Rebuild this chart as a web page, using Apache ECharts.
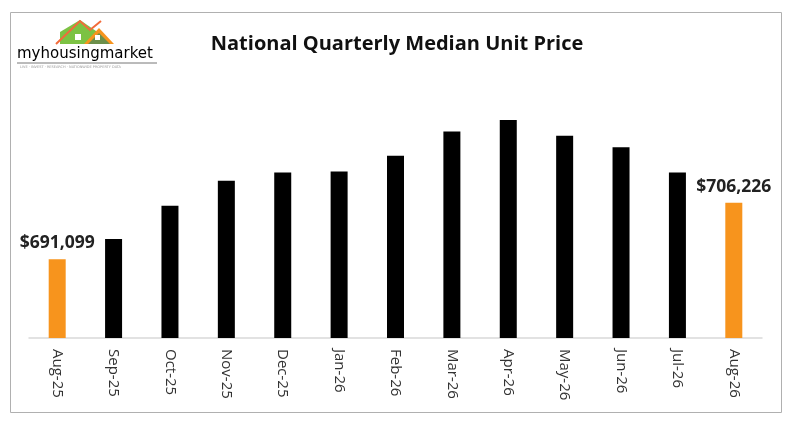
<!DOCTYPE html>
<html>
<head>
<meta charset="utf-8">
<script src="https://cdn.jsdelivr.net/npm/echarts@6/dist/echarts.min.js"></script>
<style>
  html, body { margin: 0; padding: 0; background: #fff; }
  #chart { width: 800px; height: 431px; }
</style>
</head>
<body>
<div id="chart"></div>
<script>
const MONTHS = ["Aug-25", "Sep-25", "Oct-25", "Nov-25", "Dec-25", "Jan-26", "Feb-26",
                "Mar-26", "Apr-26", "May-26", "Jun-26", "Jul-26", "Aug-26"];
const PRICES = [691099, 696500, 705400, 712100, 714300, 714600, 718800,
                725300, 728400, 724200, 721100, 714300, 706226];
const LABELLED = [0, 12];

const ORANGE = "#f7941d";
const BLACK = "#000000";

document.addEventListener("DOMContentLoaded", () => {
  const chart = echarts.init(document.getElementById("chart"));
  chart.setOption(buildOption());
});

function fmtPrice(v) {
  return "$" + v.toLocaleString("en-US");
}

function buildOption() {
  const data = PRICES.map((v, i) => {
    const hi = LABELLED.includes(i);
    return {
      value: v,
      itemStyle: { color: hi ? ORANGE : BLACK },
      label: {
        show: hi,
        position: "top",
        distance: 7,
        formatter: p => fmtPrice(p.value),
        fontFamily: "Open Sans",
        fontWeight: "bold",
        fontSize: 17.5,
        color: "#222",
      },
    };
  });

  return {
    animation: false,
    title: {
      text: "National Quarterly Median Unit Price",
      left: 392,
      top: 29,
      textAlign: "center",
      textStyle: { fontFamily: "Open Sans", fontWeight: "bold", fontSize: 20, color: "#111" },
    },
    grid: { left: 29, right: 38, top: 58, bottom: 93 },
    xAxis: {
      type: "category",
      data: MONTHS,
      axisLine: { lineStyle: { color: "#d9d9d9", width: 1.5 } },
      axisTick: { show: false },
      axisLabel: {
        rotate: -90,
        margin: 11,
        fontFamily: "Open Sans",
        fontSize: 15,
        color: "#333",
        interval: 0,
      },
    },
    yAxis: {
      type: "value",
      min: 670000,
      max: 745000,
      show: false,
      splitLine: { show: false },
    },
    series: [{
      type: "bar",
      barWidth: 17,
      data,
    }],
    graphic: buildLogo(),
  };
}

function buildLogo() {
  return [
    { type: "rect", shape: { x: 10.5, y: 12.5, width: 771, height: 400 },
      style: { fill: "none", stroke: "#b0b0b0", lineWidth: 1 }, silent: true },
    // green house
    { type: "polygon", shape: { points: [[60, 44], [60, 32], [80, 20], [96, 31], [96, 44]] },
      style: { fill: "#7cc243" } },
    // orange roof
    { type: "polygon", shape: { points: [[84, 44], [99, 28], [114, 44]] },
      style: { fill: "#f7941d" } },
    { type: "polygon", shape: { points: [[88, 44], [99, 33], [110, 44]] },
      style: { fill: "#6b8f4a" } },
    // roof line
    { type: "polyline", shape: { points: [[56, 44], [80, 21], [90, 30], [101, 21]] },
      style: { stroke: "#f26b3a", lineWidth: 2, fill: "none" } },
    // windows
    { type: "rect", shape: { x: 75, y: 34, width: 6, height: 6 }, style: { fill: "#fff" } },
    { type: "rect", shape: { x: 95, y: 35, width: 5, height: 5 }, style: { fill: "#fff" } },
    {
      type: "text", left: 17, top: 47,
      style: {
        text: "{a|my}{b|housing}{a|market}",
        rich: {
          a: { fontFamily: "DejaVu Sans", fontSize: 15, color: "#555" },
          b: { fontFamily: "DejaVu Sans", fontSize: 15, color: "#6cbf3f" },
        },
      },
    },
    { type: "line", shape: { x1: 17, y1: 63, x2: 157, y2: 63 },
      style: { stroke: "#777", lineWidth: 1 } },
    { type: "text", left: 20, top: 65,
      style: { text: "LIVE · INVEST · RESEARCH · NATIONWIDE PROPERTY DATA",
               fontFamily: "DejaVu Sans", fontSize: 3.5, fill: "#999" } },
  ];
}
</script>
</body>
</html>
